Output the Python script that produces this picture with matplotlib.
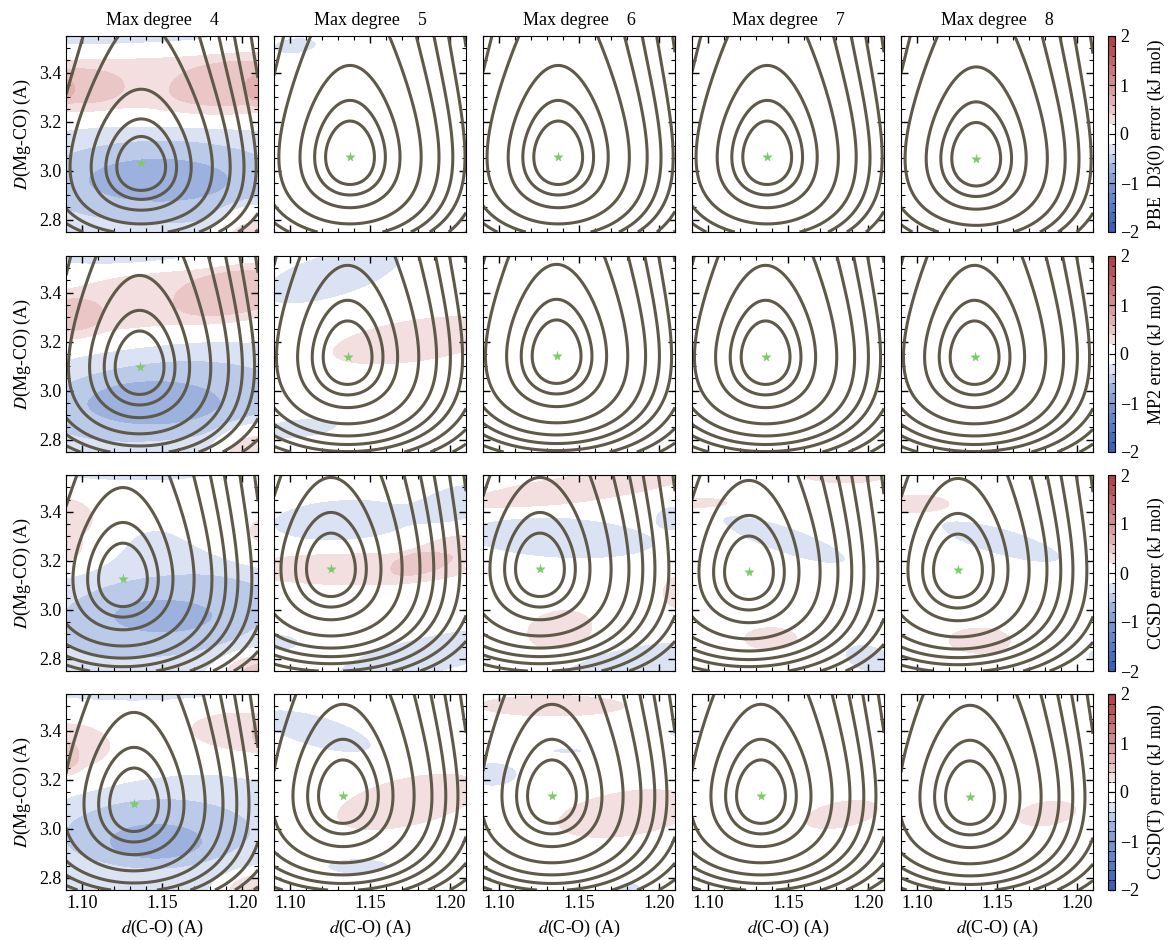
import numpy as np
import matplotlib
matplotlib.use("Agg")
import matplotlib.pyplot as plt
from matplotlib.colors import ListedColormap, BoundaryNorm
from matplotlib.ticker import MultipleLocator
import matplotlib.cm as cm

plt.rcParams['font.family'] = ['Liberation Serif', 'DejaVu Serif']
plt.rcParams['mathtext.fontset'] = 'stix'
plt.rcParams['font.size'] = 13

# ---------------- data ----------------
degrees = [4, 5, 6, 7, 8]
methods = ["PBE  D3(0)", "MP2", "CCSD", "CCSD(T)"]
d_lim = (1.09, 1.21)
D_lim = (2.75, 3.55)
x_ticks = [1.10, 1.15, 1.20]
y_ticks = [2.8, 3.0, 3.2, 3.4]
cbar_ticks = [-2, -1, 0, 1, 2]
err_levels = [-2.0, -1.8, -1.6, -1.4, -1.2, -1.0, -0.8, -0.6, -0.4, -0.2, 0.0,
              0.2, 0.4, 0.6, 0.8, 1.0, 1.2, 1.4, 1.6, 1.8, 2.0]
band_colors = ['#3d5fb3', '#4a6bba', '#5878c0', '#6785c6', '#7692cd',
               '#87a0d4', '#9cb1de', '#bccaea', '#dbe2f3', '#ffffff',
               '#ffffff', '#f3dfdf', '#eac6c6', '#e1b0b0', '#d99d9e',
               '#d08a8c', '#c8787a', '#c06568', '#b85457', '#b04448']

# contour levels of the fitted energy surface (relative units)
pes_levels = [1.0, 2.1, 4.2, 8.5, 13.3, 17.75, 22.2, 27.9, 34.0, 41.0]

# minimum (star) positions, rows = methods, cols = degrees
star_d = [[1.137, 1.1375, 1.137, 1.137, 1.137],
          [1.136, 1.136, 1.136, 1.136, 1.136],
          [1.1256, 1.1256, 1.1256, 1.1256, 1.1256],
          [1.1325, 1.1331, 1.1331, 1.1331, 1.1331]]
star_D = [[3.030, 3.056, 3.056, 3.056, 3.050],
          [3.097, 3.138, 3.142, 3.138, 3.138],
          [3.125, 3.166, 3.166, 3.154, 3.162],
          [3.101, 3.134, 3.134, 3.134, 3.130]]
pes_D0 = [[3.015, 3.056, 3.056, 3.056, 3.050],
          [3.097, 3.138, 3.142, 3.138, 3.138],
          [3.125, 3.166, 3.166, 3.154, 3.162],
          [3.101, 3.134, 3.134, 3.134, 3.130]]
pes_a = [[2.47, 2.1, 2.1, 2.1, 2.1],
         [2.1, 2.1, 2.1, 2.1, 2.1],
         [2.1, 2.1, 2.1, 2.1, 2.1],
         [2.1, 2.1, 2.1, 2.1, 2.1]]
pes_kd = 4300.0
pes_De = 14.2

# error patches, in axes fractions:
# (u centre, v centre, u radius, v radius, angle deg, error kJ/mol)
err_patches = {
    (0, 0): [(0.30, 1.02, 0.66, 0.13, 0, -0.3),
             (0.55, 0.76, 0.95, 0.19, 0, 0.35),
             (0.92, 0.74, 0.40, 0.16, 10, 0.2),
             (1.02, 0.725, 0.09, 0.08, 0, 0.2),
             (0.0, 0.72, 0.30, 0.13, 0, 0.2),
             (-0.02, 0.725, 0.07, 0.06, 0, 0.2),
             (0.5, 0.22, 1.10, 0.40, 0, -0.3),
             (0.5, 0.27, 0.85, 0.26, 0, -0.2),
             (0.48, 0.265, 0.42, 0.127, 0, -0.2),
             (1.0, 0.0, 0.22, 0.14, 0, 0.55)],
    (0, 1): [(0.11, 0.95, 0.14, 0.05, 5, -0.3)],
    (1, 0): [(0.35, 1.03, 0.75, 0.10, 0, -0.3),
             (0.55, 0.78, 0.95, 0.18, 8, 0.35),
             (0.92, 0.80, 0.35, 0.15, 10, 0.2),
             (0.0, 0.68, 0.20, 0.12, 0, 0.2),
             (0.5, 0.22, 1.10, 0.40, 5, -0.3),
             (0.5, 0.27, 0.80, 0.24, 5, -0.2),
             (0.45, 0.25, 0.40, 0.13, 0, -0.2),
             (1.0, 0.0, 0.22, 0.14, 0, 0.55)],
    (1, 1): [(0.30, 0.90, 0.46, 0.14, 15, -0.3),
             (0.75, 0.57, 0.56, 0.13, 8, 0.3),
             (0.13, 0.12, 0.25, 0.06, 5, -0.3)],
    (2, 0): [(0.4, 1.02, 0.70, 0.06, 0, -0.3),
             (0.0, 0.72, 0.26, 0.20, -10, 0.3),
             (0.0, 0.625, 0.08, 0.08, 0, 0.2),
             (1.0, 0.74, 0.43, 0.21, -15, 0.3),
             (1.02, 0.71, 0.07, 0.06, 0, 0.2),
             (0.55, 0.35, 0.88, 0.48, 15, -0.3),
             (0.5, 0.27, 0.80, 0.24, 5, -0.2),
             (0.505, 0.28, 0.29, 0.095, 0, -0.2),
             (1.0, 0.0, 0.20, 0.10, 0, 0.55)],
    (2, 1): [(0.36, 0.77, 0.46, 0.13, 3, -0.3),
             (0.97, 0.86, 0.25, 0.11, 10, -0.3),
             (0.42, 0.52, 0.72, 0.10, 0, 0.3),
             (0.85, 0.60, 0.25, 0.08, 20, 0.3),
             (0.8, 0.08, 0.60, 0.12, 12, -0.3),
             (0.03, 0.145, 0.12, 0.05, 0, -0.3)],
    (2, 2): [(0.5, 0.93, 0.80, 0.085, 8, 0.3),
             (0.4, 0.68, 0.62, 0.13, -3, -0.3),
             (1.0, 0.785, 0.12, 0.07, 0, -0.3),
             (1.02, 0.40, 0.10, 0.10, 0, 0.3),
             (0.4, 0.21, 0.21, 0.12, 8, 0.3),
             (0.8, 0.03, 0.50, 0.12, 10, -0.3)],
    (2, 3): [(0.8, 1.0, 0.27, 0.05, 0, 0.3),
             (0.06, 0.855, 0.16, 0.032, 0, 0.3),
             (0.48, 0.67, 0.42, 0.085, -18, -0.3),
             (0.41, 0.165, 0.17, 0.07, 0, 0.3),
             (0.93, 0.06, 0.17, 0.085, -15, -0.3)],
    (2, 4): [(0.95, 1.01, 0.12, 0.025, 0, 0.3),
             (0.08, 0.85, 0.21, 0.06, 0, 0.3),
             (0.52, 0.66, 0.40, 0.085, -15, -0.3),
             (0.41, 0.155, 0.20, 0.08, 0, 0.3),
             (1.03, 0.08, 0.07, 0.04, 0, -0.3)],
    (3, 0): [(0.35, 1.02, 0.62, 0.07, 0, -0.3),
             (0.0, 0.72, 0.30, 0.16, 0, 0.3),
             (0.0, 0.675, 0.08, 0.09, 0, 0.2),
             (1.0, 0.78, 0.45, 0.15, -5, 0.3),
             (1.02, 0.80, 0.06, 0.08, 0, 0.2),
             (0.5, 0.25, 0.95, 0.40, 10, -0.3),
             (0.45, 0.30, 0.60, 0.20, 0, -0.2),
             (0.47, 0.24, 0.28, 0.11, 0, -0.2),
             (1.0, 0.0, 0.19, 0.10, 0, 0.55)],
    (3, 1): [(0.22, 0.81, 0.37, 0.10, -15, -0.3),
             (0.70, 0.45, 0.47, 0.15, 12, 0.3),
             (0.44, 0.12, 0.20, 0.05, 0, -0.3)],
    (3, 2): [(0.36, 0.94, 0.47, 0.065, 0, 0.3),
             (0.44, 0.71, 0.10, 0.016, 0, -0.3),
             (0.05, 0.59, 0.16, 0.075, 0, -0.3),
             (1.0, 0.80, 0.04, 0.02, 0, -0.3),
             (0.75, 0.39, 0.45, 0.14, 8, 0.3),
             (0.76, 0.0, 0.08, 0.05, 0, -0.3)],
    (3, 3): [(0.78, 0.385, 0.24, 0.08, 10, 0.3)],
    (3, 4): [(0.76, 0.39, 0.19, 0.075, 8, 0.3)],
}

# ---------------- figure ----------------
W, H = 1170, 940
fig = plt.figure(figsize=(W / 100, H / 100), dpi=100)

ax_left = [66, 274, 483, 692, 901]
ax_top = [36, 256, 475, 694]
ax_w, ax_h = 192, 196
cb_left, cb_w = 1108, 7
line_color = '#5f5949'

cmap = ListedColormap(band_colors)
norm = BoundaryNorm(err_levels, cmap.N)

nu = 300
u = np.linspace(0, 1, nu)
v = np.linspace(0, 1, nu)
U, V = np.meshgrid(u, v)
dd = d_lim[0] + U * (d_lim[1] - d_lim[0])
DD = D_lim[0] + V * (D_lim[1] - D_lim[0])


def error_field(patches):
    Z = np.zeros_like(U)
    for cu, cv, ru, rv, ang, amp in patches:
        t = np.deg2rad(ang)
        du, dv = U - cu, V - cv
        x = du * np.cos(t) + dv * np.sin(t)
        y = -du * np.sin(t) + dv * np.cos(t)
        r2 = (x / ru) ** 2 + (y / rv) ** 2
        Z += amp * np.exp(-r2 ** 2)
    return Z


for r in range(4):
    for c in range(5):
        ax = fig.add_axes([ax_left[c] / W, 1 - (ax_top[r] + ax_h) / H, ax_w / W, ax_h / H])
        Z = error_field(err_patches.get((r, c), []))
        ax.contourf(dd, DD, Z, levels=err_levels, cmap=cmap, norm=norm)
        E = pes_kd * (dd - star_d[r][c]) ** 2 + \
            pes_De * (1 - np.exp(-pes_a[r][c] * (DD - pes_D0[r][c]))) ** 2
        ax.contour(dd, DD, E, levels=pes_levels, colors=line_color, linewidths=2.2)
        ax.plot(star_d[r][c], star_D[r][c], marker='*', color='#7dcb68', ms=8, mec='none')
        ax.set_xlim(*d_lim)
        ax.set_ylim(*D_lim)
        ax.set_xticks(x_ticks)
        ax.set_yticks(y_ticks)
        ax.xaxis.set_minor_locator(MultipleLocator(0.01))
        ax.yaxis.set_minor_locator(MultipleLocator(0.05))
        ax.tick_params(which='both', direction='in', top=True, right=True, labelsize=13)
        ax.tick_params(which='major', length=5, width=1)
        ax.tick_params(which='minor', length=3, width=0.8)
        if c == 0:
            ax.set_yticklabels([f"{t:.1f}" for t in y_ticks])
            ax.set_ylabel(r"$D$(Mg-CO) (A)", fontsize=13)
        else:
            ax.set_yticklabels([])
        if r == 3:
            ax.set_xticklabels([f"{t:.2f}" for t in x_ticks])
            ax.set_xlabel(r"$d$(C-O) (A)", fontsize=13)
        else:
            ax.set_xticklabels([])
        if r == 0:
            ax.set_title(f"Max degree    {degrees[c]}", fontsize=13, pad=8)

    cax = fig.add_axes([cb_left / W, 1 - (ax_top[r] + ax_h) / H, cb_w / W, ax_h / H])
    sm = cm.ScalarMappable(norm=norm, cmap=cmap)
    cb = fig.colorbar(sm, cax=cax, ticks=cbar_ticks, boundaries=err_levels)
    cb.ax.yaxis.set_minor_locator(MultipleLocator(0.2))
    cb.ax.tick_params(which='both', direction='in', labelsize=13, left=True, right=True)
    cb.ax.tick_params(which='major', length=4)
    cb.ax.tick_params(which='minor', length=2)
    cb.set_label(f"{methods[r]} error (kJ mol)", fontsize=13, labelpad=6)

fig.savefig("out.png", dpi=100)
